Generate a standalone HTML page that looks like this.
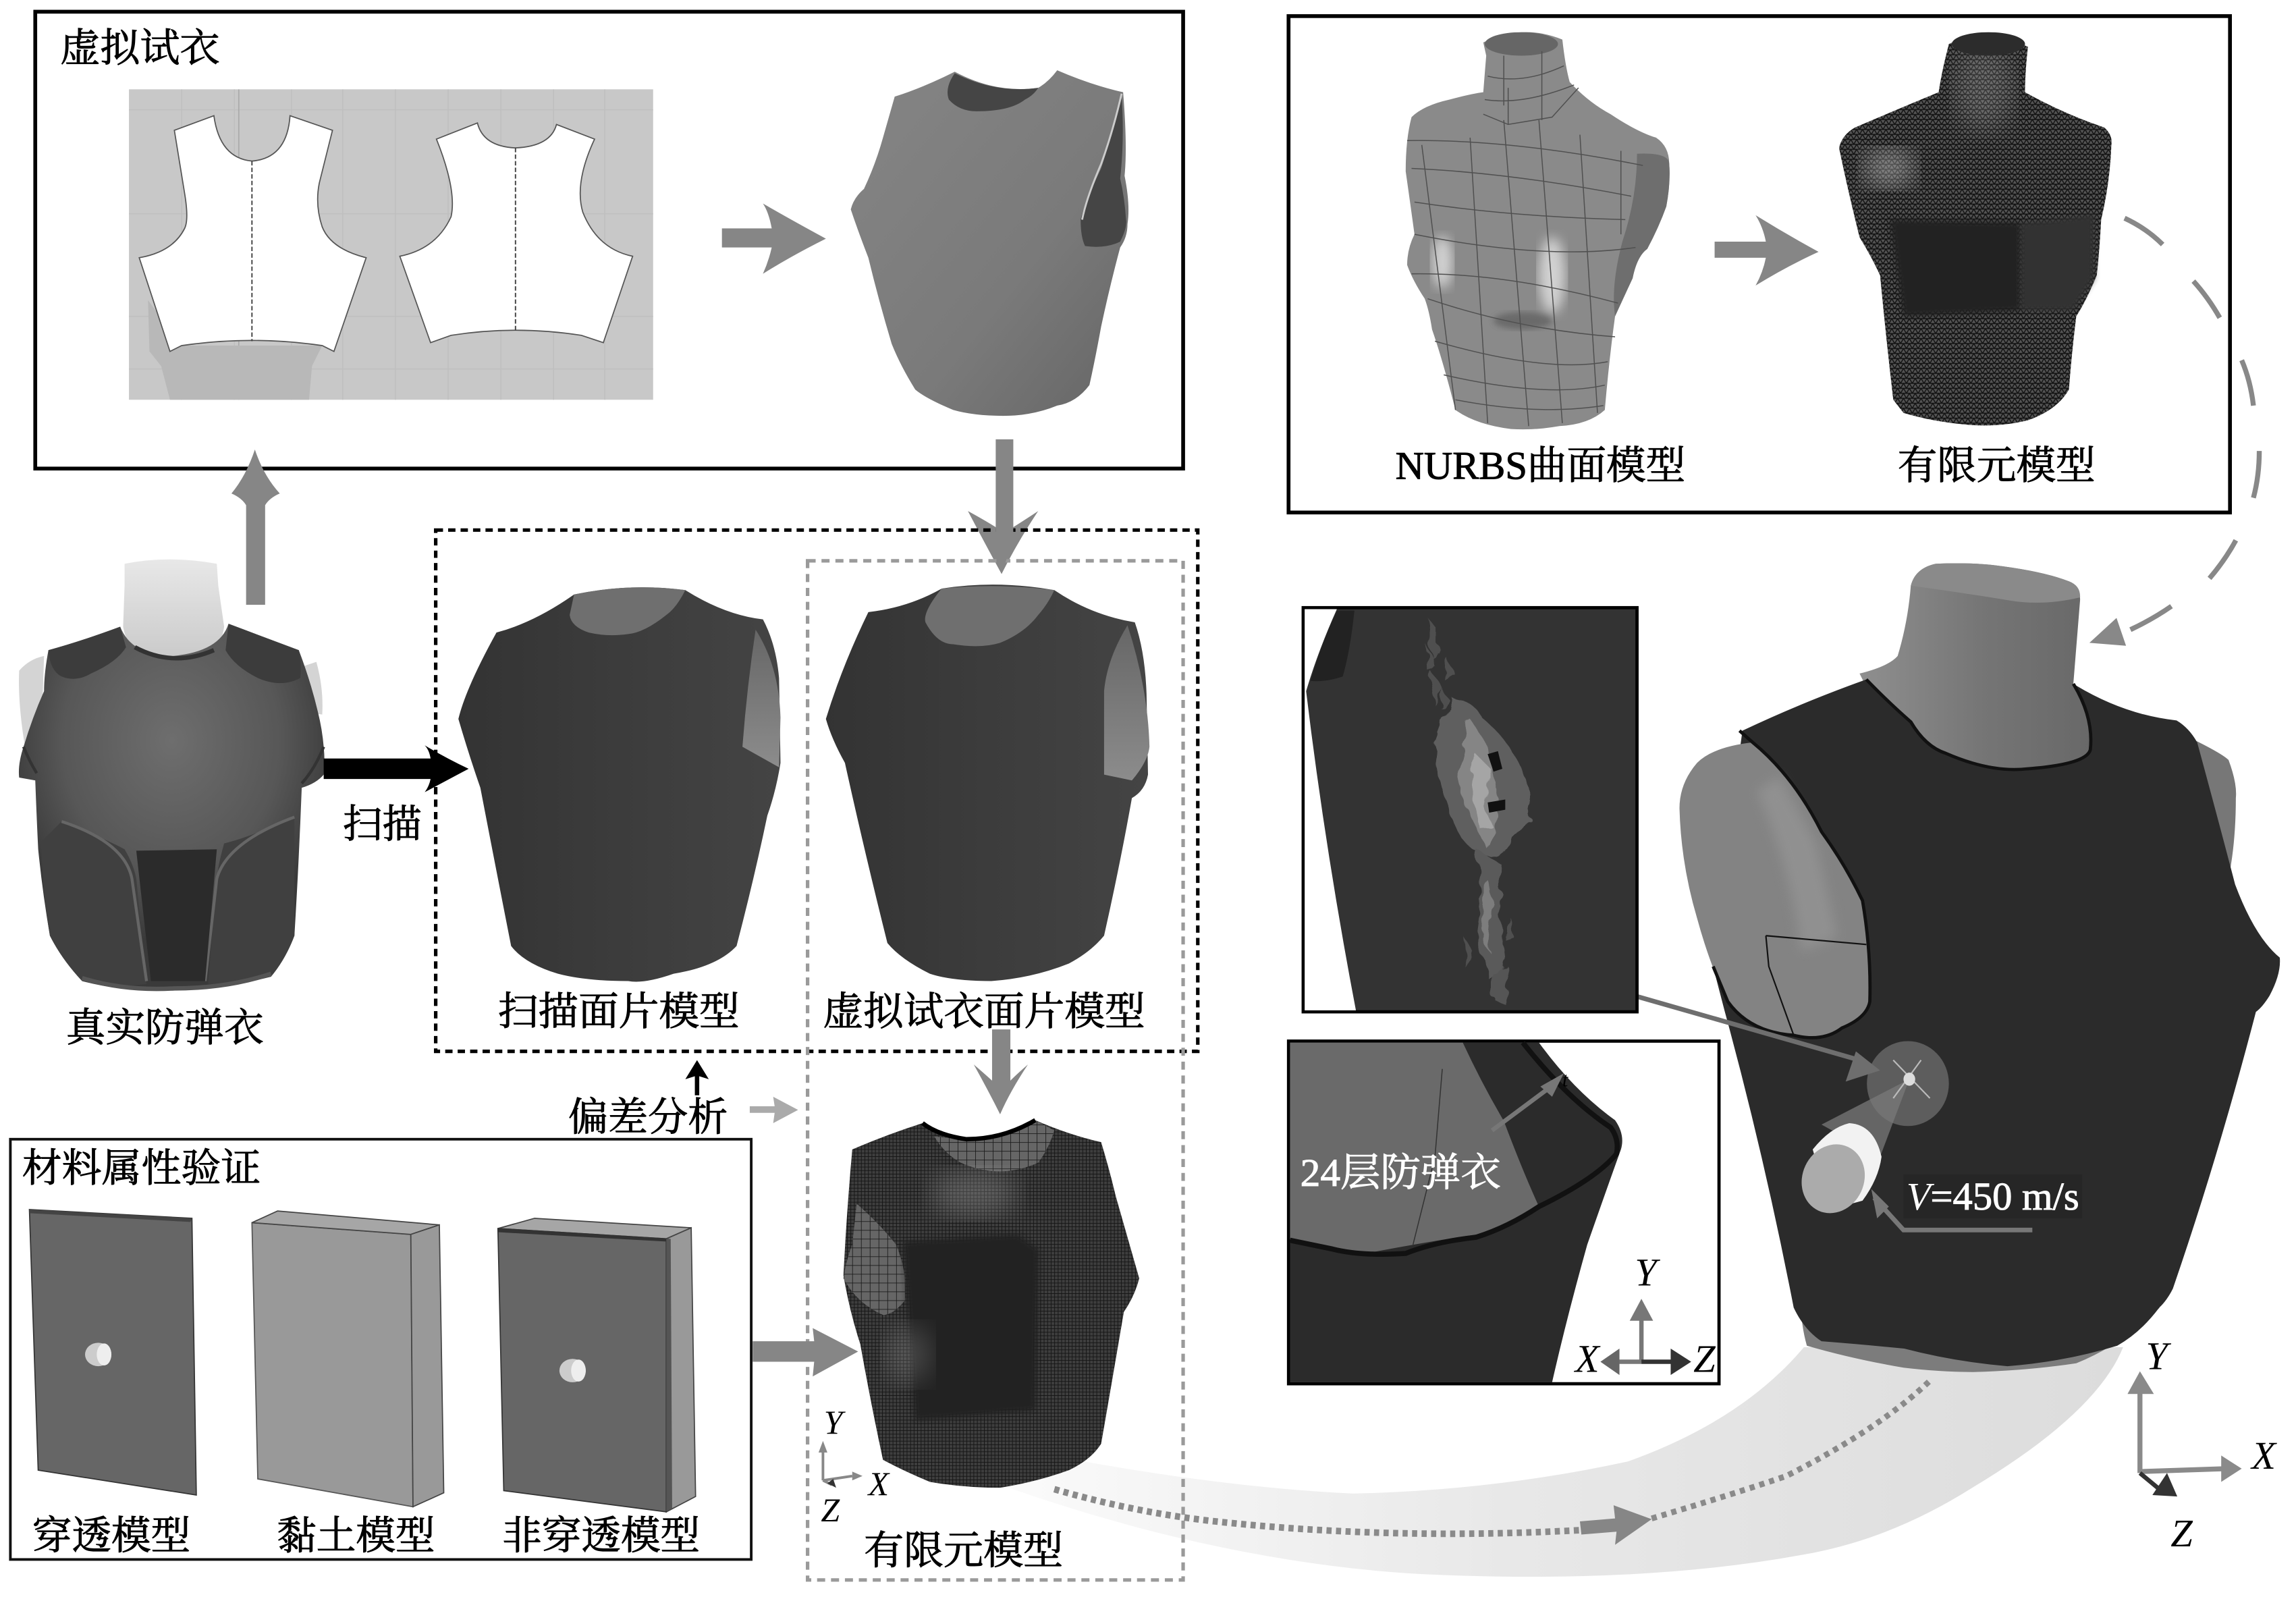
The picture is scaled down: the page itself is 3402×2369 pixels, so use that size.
<!DOCTYPE html>
<html><head><meta charset="utf-8"><style>
html,body{margin:0;padding:0;background:#fff}
svg{display:block}
text{font-family:"Liberation Serif","Noto Serif CJK SC",serif;fill:#000;font-size:27px;stroke:#000;stroke-width:.45}
text.w,text.w tspan{fill:#fff;stroke:#fff}
.i{font-style:italic;stroke-width:0}
</style></head><body>
<svg width="3402" height="2369" viewBox="0 0 1568 1092" xmlns="http://www.w3.org/2000/svg">
<defs>
<linearGradient id="g1" x1="0" y1="0" x2="1" y2="1"><stop offset="0" stop-color="#858585"/><stop offset=".6" stop-color="#7a7a7a"/><stop offset="1" stop-color="#656565"/></linearGradient>
<radialGradient id="real" cx=".5" cy=".32" r=".55"><stop offset="0" stop-color="#6e6e6e"/><stop offset=".65" stop-color="#575757"/><stop offset="1" stop-color="#3a3a3a"/></radialGradient>
<linearGradient id="scan" x1="0" y1="0" x2="1" y2="0"><stop offset="0" stop-color="#333"/><stop offset=".5" stop-color="#3c3c3c"/><stop offset="1" stop-color="#444"/></linearGradient>
<linearGradient id="rib" x1="610" y1="0" x2="1450" y2="0" gradientUnits="userSpaceOnUse"><stop offset="0" stop-color="#fff"/><stop offset=".5" stop-color="#e8e8e8"/><stop offset="1" stop-color="#dcdcdc"/></linearGradient>
<linearGradient id="neckg" x1="0" y1="0" x2="1" y2="0"><stop offset="0" stop-color="#8f8f8f"/><stop offset=".5" stop-color="#757575"/><stop offset="1" stop-color="#666"/></linearGradient>
<linearGradient id="wn" x1="0" y1="0" x2="0" y2="1"><stop offset="0" stop-color="#e8e8e8"/><stop offset="1" stop-color="#c8c8c8"/></linearGradient>
<linearGradient id="ah" x1="0" y1="0" x2="0" y2="1"><stop offset="0" stop-color="#666"/><stop offset="1" stop-color="#8c8c8c"/></linearGradient>
<pattern id="fine" width="2.4" height="2.4" patternUnits="userSpaceOnUse"><rect width="2.4" height="2.4" fill="#3e3e3e"/><path d="M0,0H2.4M0,0V2.4" stroke="#161616" stroke-width=".9"/></pattern>
<pattern id="coarse" width="6" height="6" patternUnits="userSpaceOnUse"><rect width="6" height="6" fill="#666"/><path d="M0,0H6M0,0V6" stroke="#1a1a1a" stroke-width=".8"/></pattern>
<pattern id="tri" width="4" height="3.4" patternUnits="userSpaceOnUse"><rect width="4" height="3.4" fill="#545454"/><path d="M0,0H4M0,0L2,3.4L4,0M0,3.4H4" stroke="#121212" stroke-width=".7" fill="none"/></pattern>
<filter id="b2"><feGaussianBlur stdDeviation="2"/></filter>
<filter id="b4"><feGaussianBlur stdDeviation="4"/></filter>
<filter id="b8"><feGaussianBlur stdDeviation="9"/></filter>
<filter id="wob" x="-20%" y="-20%" width="140%" height="140%"><feTurbulence type="fractalNoise" baseFrequency=".09" numOctaves="2" seed="4" result="n"/><feDisplacementMap in="SourceGraphic" in2="n" scale="9"/></filter>
</defs>

<!-- ribbon -->
<path d="M1232,920 L1450,920 Q1432,965 1347,1016 Q1290,1052 1230,1062 Q1120,1082 971,1075 Q880,1070 780,1044 Q690,1020 610,985 L740,998 Q840,1016 924,1020 Q1020,1018 1112,998 Q1190,970 1232,920Z" fill="url(#rib)"/>

<!-- panel 1 -->
<rect x="24" y="8" width="784" height="312" fill="none" stroke="#000" stroke-width="2.6"/>
<text x="41" y="42" textLength="109" lengthAdjust="spacingAndGlyphs">虚拟试衣</text>
<rect x="88" y="61" width="358" height="212" fill="#c8c8c8"/>
<path d="M124,61V273M160,61V273M199,61V273M234,61V273M270,61V273M306,61V273M342,61V273M378,61V273M413,61V273M88,75H446M88,146H446M88,216H446M88,252H446" stroke="#bfbfbf" stroke-width=".7"/>
<path d="M163,61V273" stroke="#aaa" stroke-width=".8"/>
<path d="M101,205 L102,240 L110,250 L116,273 L211,273 L213,250 L220,236 L124,236Z" fill="#b8b8b8"/>
<path d="M146,79 L119,89 L126,132 Q129,150 126,156 Q118,172 95,176 L116,240 L124,236 Q172,229 220,236 L228,240 L250,176 Q226,170 220,155 Q215,140 218,125 L227,89 L198,79 Q196,108 172,110 Q150,108 146,79Z" fill="#fff" stroke="#555" stroke-width=".8"/>
<path d="M326,84 L298,95 Q312,130 308,148 Q298,170 273,175 L294,234 L308,229 Q352,222 397,229 L412,234 L432,175 Q408,170 398,145 Q392,125 406,95 L380,85 Q376,100 352,101 Q330,100 326,84Z" fill="#fff" stroke="#555" stroke-width=".8"/>
<path d="M172,110V233M352,101V226" stroke="#444" stroke-width=".9" stroke-dasharray="3 1.5"/>
<!-- garment 1 -->
<path d="M652,49 Q680,64 709,60 Q716,56 722,48 Q745,58 767,63 Q770,100 768,120 Q772,140 770,153 Q770,162 765,169 Q758,195 752,223 Q748,245 744,263 Q735,275 722,277 Q705,284 685,284 Q665,284 651,280 Q632,272 625,266 Q615,250 609,235 Q600,205 593,176 Q586,158 581,143 Q583,135 590,129 Q598,112 603,94 Q607,80 611,66 Q630,60 652,49Z" fill="url(#g1)"/>
<path d="M652,50 Q645,60 648,68 Q655,76 667,76 Q690,76 700,68 Q706,65 709,60 Q680,64 652,50Z" fill="#454545"/>
<path d="M766,66 Q760,90 752,115 Q740,140 738,150 Q738,162 741,168 Q755,170 765,165 Q770,155 769,150 Q768,135 765,122 Q768,95 766,66Z" fill="#454545"/>
<path d="M766,64 Q760,90 752,112 Q742,135 739,150" fill="none" stroke="#ccc" stroke-width="1.3"/>
<!-- arrow H1 -->
<path d="M493,156H527Q525,145 521,139Q540,150 564,163Q540,175 521,187Q525,178 527,169H493Z" fill="#868686"/>
<!-- up arrow -->
<path d="M168,413V345Q165,340 158,337Q168,325 174,307Q180,325 191,337Q184,340 181,345V413Z" fill="#868686"/>
<!-- down arrow A2 -->
<path d="M680,300H692V360Q700,355 709,349Q695,370 684,392Q672,370 661,349Q672,355 680,360Z" fill="#868686"/>

<!-- real vest -->
<path d="M85,385 Q115,379 148,385 L149,400 L153,428 Q150,452 118,454 Q88,452 84,428 L85,400Z" fill="url(#wn)"/>
<path d="M13,458 Q20,450 30,448 L28,510 L17,510 Q12,480 13,458Z M204,456 L216,452 Q221,470 220,488 L207,486Z" fill="#d4d4d4"/>
<path d="M82,428 Q55,438 33,444 Q30,460 30,472 Q22,490 16,510 Q12,522 13,531 L24,533 Q25,560 26,580 Q29,610 34,639 Q42,655 56,670 Q85,678 119,675 Q155,675 185,667 Q195,655 201,639 Q204,590 206,538 Q216,535 221,529 Q222,520 221,510 Q220,498 217,486 Q212,465 204,444 Q180,435 156,426 Q150,445 118,448 Q90,448 82,428Z" fill="url(#real)"/>
<path d="M82,428 Q55,438 33,444 Q34,458 42,462 Q52,466 62,460 Q80,452 86,442Z M156,426 Q180,435 204,444 Q206,455 205,463 Q192,470 176,463 Q160,455 154,444Z" fill="#3c3c3c"/>
<path d="M92,442 Q118,456 146,444" stroke="#333" stroke-width="3" fill="none"/>
<path d="M42,561 Q70,572 85,580 Q91,590 93,600 L100,672 Q75,675 56,670 Q42,655 34,639 Q29,610 28,575Z M201,558 Q170,572 153,576 Q149,590 148,600 L142,672 Q165,672 185,667 Q195,655 201,639 Z" fill="#404040"/>
<path d="M42,561 Q85,575 90,600 L100,670 M201,558 Q155,575 148,600 L140,670" stroke="#666" stroke-width="2" fill="none"/>
<path d="M93,581 L148,580 L140,670 L103,670Z" fill="#2b2b2b"/>
<path d="M56,668 Q85,677 119,675 Q155,675 185,665" stroke="#555" stroke-width="3" fill="none"/>
<path d="M16,510 Q20,520 25,528 M221,510 Q215,525 206,535" stroke="#333" stroke-width="2" fill="none"/>
<text x="45" y="711" textLength="135" lengthAdjust="spacingAndGlyphs">真实防弹衣</text>

<!-- black arrow -->
<path d="M221,518H294Q293,512 290,509Q305,518 320,525Q305,533 290,541Q293,537 294,532H221Z" fill="#000"/>
<text x="234" y="572" textLength="54" lengthAdjust="spacingAndGlyphs">扫描</text>

<!-- scan vest -->
<path d="M392,406 Q430,398 468,403 Q495,420 521,423 Q530,440 532,463 L533,521 Q530,540 524,557 Q515,600 503,646 Q490,660 460,665 Q440,672 429,670 Q400,670 381,665 Q358,658 349,646 Q338,590 328,538 Q320,515 313,491 Q318,470 339,432 Q365,425 392,406Z" fill="url(#scan)"/>
<path d="M392,406 Q430,398 468,403 Q462,415 455,420 Q440,432 429,433 Q415,435 402,432 Q390,428 389,420Z" fill="#6f6f6f"/>
<path d="M516,430 Q510,470 507,510 L532,524 L533,490 Q532,455 516,430Z" fill="url(#ah)"/>

<!-- VT vest -->
<path d="M643,402 Q680,396 720,403 Q745,420 775,425 Q782,445 783,474 L784,529 Q782,540 773,545 Q765,590 754,639 Q745,650 730,658 Q705,668 677,670 Q650,670 635,665 Q615,655 606,644 Q590,580 577,521 Q568,505 564,491 Q575,455 593,418 Q620,415 643,402Z" fill="url(#scan)"/>
<path d="M643,402 Q630,418 632,425 Q640,440 651,440 Q670,443 683,439 Q700,432 709,420 Q716,412 720,403 Q680,398 643,402Z" fill="#6f6f6f"/>
<path d="M770,427 Q756,450 754,472 L754,529 L773,533 Q784,520 785,510 Q784,470 770,427Z" fill="url(#ah)"/>

<!-- dashed boxes -->
<path d="M297.5,362 H818 V718 H297.5 Z" fill="none" stroke="#000" stroke-width="2.4" stroke-dasharray="5 3.5"/>
<path d="M551.5,383 H808 V1079 H551.5 Z" fill="none" stroke="#9a9a9a" stroke-width="2.4" stroke-dasharray="5.5 4"/>
<path d="M680,360H692V368L684,392L680,368Z" fill="#868686"/>

<text x="340" y="700" textLength="165" lengthAdjust="spacingAndGlyphs">扫描面片模型</text>
<text x="562" y="700" textLength="220" lengthAdjust="spacingAndGlyphs">虚拟试衣面片模型</text>

<!-- A4 -->
<path d="M677.5,703H690V738Q695,733 702,727Q690,745 683,761Q675,745 665,727Q672,733 677.5,738Z" fill="#868686"/>
<!-- A5 -->
<path d="M476,724 L484,737 L477.5,735 V748 H474.5 V735 L468,737Z" fill="#000"/>
<text x="388" y="772" textLength="109" lengthAdjust="spacingAndGlyphs">偏差分析</text>
<path d="M512,755.5H529L528,749 L545,758 L528,767 L529,760H512Z" fill="#aaa"/>

<!-- material panel -->
<rect x="7" y="778" width="506" height="287" fill="#fff" stroke="#111" stroke-width="1.8"/>
<text x="15" y="807" textLength="163" lengthAdjust="spacingAndGlyphs">材料属性验证</text>
<path d="M20,826 L131,832 L134,1021 L26,1004Z" fill="#666" stroke="#333" stroke-width=".8"/>
<path d="M20,826 L131,832 L130,834.5 L20,828.5Z" fill="#444"/>
<ellipse cx="67" cy="925" rx="9" ry="8" fill="#ccc"/><ellipse cx="71" cy="925" rx="5" ry="7.5" fill="#eee"/>
<path d="M172,835 L280.5,843 L282,1029 L176,1010Z" fill="#999" stroke="#555" stroke-width=".8"/>
<path d="M172,835 L189.5,827 L300,836.5 L280.5,843Z" fill="#a6a6a6" stroke="#444" stroke-width=".8"/>
<path d="M300,836.5 L303,1019.5 L282,1029 L280.5,843Z" fill="#999" stroke="#444" stroke-width=".8"/>
<path d="M340,839 L365,832 L472,838.5 L455,846Z" fill="#a6a6a6" stroke="#444" stroke-width=".8"/>
<path d="M472,838.5 L475,1022 L455,1032.5 L455,846Z" fill="#999" stroke="#444" stroke-width=".8"/>
<path d="M340,839 L455,846 L455,1032.5 L344,1018Z" fill="#666" stroke="#333" stroke-width=".8"/>
<path d="M340,839 L457,846 V848 L340,841.5Z" fill="#333"/>
<path d="M455,846 H458 L459,1030 L455,1032Z" fill="#555"/>
<ellipse cx="391" cy="936" rx="9" ry="8" fill="#ccc"/><ellipse cx="395" cy="936" rx="5" ry="7.5" fill="#eee"/>
<text x="22" y="1058" textLength="108" lengthAdjust="spacingAndGlyphs">穿透模型</text>
<text x="189" y="1058" textLength="108" lengthAdjust="spacingAndGlyphs">黏土模型</text>
<text x="343" y="1058" textLength="135" lengthAdjust="spacingAndGlyphs">非穿透模型</text>

<!-- FE vest -->
<path d="M630,767 Q640,775 660,778 Q685,778 707,765 Q730,775 752,780 Q758,800 762,817 Q770,845 778,873 Q775,885 767.5,896 Q760,940 752,986 Q745,997 730,1004 Q708,1012 683,1016 Q658,1016 635,1012 Q618,1005 603,997 Q595,960 587.5,918 Q580,895 576,871 Q578,830 582,785 Q605,775 630,767Z" fill="url(#fine)"/>
<path d="M638,776 Q645,788 656,794 Q683,806 709,794 Q716,785 720,772 L707,765 Q680,780 655,778Z" fill="url(#coarse)"/>
<path d="M630,767 Q640,775 660,778 Q685,778 707,765" fill="none" stroke="#000" stroke-width="3"/>
<path d="M576,873 Q578,860 582,850 L585,822 Q600,835 612,850 Q620,870 618,888 Q610,898 603,898 Q585,890 576,873Z" fill="url(#coarse)"/>
<path d="M617,848 L695,843 L709,853 L707,963 L625,970Z" fill="#222" filter="url(#b2)"/>
<ellipse cx="665" cy="815" rx="30" ry="16" fill="#aaa" opacity=".3" filter="url(#b8)"/>
<ellipse cx="620" cy="925" rx="16" ry="20" fill="#aaa" opacity=".25" filter="url(#b8)"/>
<!-- A7 -->
<path d="M514,916H556L555,907 L586,923 L555,940 L556,930H514Z" fill="#868686"/>
<text x="590" y="1068" textLength="136" lengthAdjust="spacingAndGlyphs">有限元模型</text>
<path d="M562,1011V990 M562,1011L582,1008 M562,1011 L568,1014" stroke="#888" stroke-width="1.8" fill="none"/>
<path d="M562,984 L565,992 L559,992Z M589,1008 L582,1005 L582,1011Z" fill="#888"/>
<path d="M571,1016 L565,1013 L569,1010Z" fill="#333"/>
<text class="i" x="569" y="979" text-anchor="middle" style="font-size:23px">Y</text>
<text class="i" x="600" y="1021" text-anchor="middle" style="font-size:23px">X</text>
<text class="i" x="567" y="1039" text-anchor="middle" style="font-size:23px">Z</text>

<!-- panel top right -->
<rect x="880" y="11" width="643" height="339" fill="none" stroke="#000" stroke-width="2.6"/>
<path d="M1013,29 Q1040,16 1067,27 Q1069,45 1072,56 Q1085,70 1100,78 Q1118,90 1131,94 Q1140,100 1140,112 Q1141,125 1138,141 Q1133,155 1125,170 Q1118,175 1115,190 Q1108,205 1103,216 Q1099,245 1096,280 Q1085,290 1065,291 Q1048,294 1032,293 Q1008,290 994,280 Q985,245 978,225 Q976,212 973,204 Q965,192 961,181 Q961,170 966,160 Q963,138 960,117 Q960,95 964,80 Q972,72 990,68 Q1005,64 1013,63 Q1014,50 1015,38Z" fill="#8a8a8a"/>
<path d="M1118,105 Q1140,104 1140,112 Q1141,125 1138,141 Q1133,155 1125,170 Q1118,175 1115,190 L1103,216 Q1100,195 1108,165 Q1118,135 1118,105Z" fill="#6e6e6e"/>
<ellipse cx="985" cy="179" rx="7" ry="18" fill="#e4e4e4" opacity=".8" filter="url(#b4)"/>
<ellipse cx="1060" cy="188" rx="9" ry="26" fill="#e4e4e4" opacity=".8" filter="url(#b4)"/>
<ellipse cx="1040" cy="219" rx="20" ry="6" fill="#444" opacity=".45" filter="url(#b2)"/>
<ellipse cx="1039" cy="30" rx="25" ry="8" fill="#666"/>
<path d="M961,96Q1032,95 1122,113M964,115Q1032,118 1114,134M966,138Q1032,148 1110,150M966,160Q1056,178 1117,169M964,187Q1027,186 1105,207M975,204Q1037,225 1103,230M980,233Q1056,255 1098,247M986,256Q1056,272 1096,263M994,273Q1051,284 1095,277M971,99L994,280M1004,94L1016,289M1027,82L1044,291M1051,82L1067,289M1079,92L1091,282M1107,103V160M1027,38V72M1053,35V82M1016,52Q1040,58 1068,45M1014,68Q1040,72 1075,58M1013,78 L1030,85 L1060,80 L1078,60M1030,85V60" fill="none" stroke="#505050" stroke-width=".7"/>
<path d="M1171,165H1206Q1204,155 1199,147Q1220,160 1242,172Q1220,182 1199,195Q1204,186 1206,176H1171Z" fill="#868686"/>
<path d="M1331,30 Q1357,18 1385,32 Q1383,50 1383,63 Q1410,78 1437,87 Q1443,92 1442,99 Q1441,125 1435,150 Q1434,170 1432,188 Q1425,205 1418,216 Q1415,240 1413,266 Q1405,280 1385,287 Q1365,292 1343,290 Q1320,288 1300,282 L1293,273 Q1288,230 1284,188 Q1278,175 1270,162 Q1262,130 1256,101 Q1258,92 1267,87 Q1295,75 1324,63 Q1326,50 1329,38Z" fill="url(#tri)"/>
<path d="M1291,150 L1380,152 L1380,212 L1300,216Z" fill="#242424" filter="url(#b2)"/>
<path d="M1380,152 Q1410,150 1430,146 L1430,190 L1416,212 L1380,212Z" fill="#333" filter="url(#b2)"/>
<ellipse cx="1290" cy="115" rx="18" ry="13" fill="#ccc" opacity=".45" filter="url(#b8)"/>
<ellipse cx="1355" cy="60" rx="20" ry="30" fill="#ccc" opacity=".2" filter="url(#b8)"/>
<ellipse cx="1358" cy="30" rx="25" ry="8" fill="#2c2c2c"/>
<text x="953" y="327" textLength="198" lengthAdjust="spacingAndGlyphs">NURBS曲面模型</text>
<text x="1296" y="327" textLength="135" lengthAdjust="spacingAndGlyphs">有限元模型</text>

<!-- dashed curve right -->
<path d="M1451,149 Q1466,156 1477,167 M1498,192 Q1508,203 1516,217 M1531,246 Q1537,260 1539,277 M1543,308 Q1543,325 1539,340 M1527,369 Q1520,382 1509,395 M1483,414 Q1470,423 1455,430" fill="none" stroke="#888" stroke-width="3.4"/>
<path d="M1427,439 L1445.5,422 L1452,441Z" fill="#888"/>

<!-- big mannequin -->
<path d="M1230,890 Q1230,905 1234,919 Q1265,928 1300,934 Q1325,937 1348,937 Q1385,936 1418,931 Q1450,918 1475,893Z" fill="#7c7c7c"/>
<path d="M1500,506 Q1518,515 1522,519 Q1528,535 1527,545 Q1527,575 1522,600 L1505,600Z" fill="#777"/>
<path d="M1305,400 Q1308,388 1322,385 Q1345,384 1362,386 Q1395,390 1413,397 Q1421,400 1420.6,410 L1416,467 L1440,520 L1385,540 L1300,520 L1270,460 Q1290,455 1296,448 Q1303,425 1305,400Z" fill="url(#neckg)"/>
<path d="M1305,400 Q1308,388 1322,385 Q1345,384 1362,386 Q1395,390 1413,397 Q1421,400 1420.6,408 Q1395,414 1372,410 Q1335,404 1305,400Z" fill="#8a8a8a"/>
<path d="M1190,499 Q1230,480 1274.6,464 Q1290,480 1305,493 Q1315,510 1329,514.5 Q1360,528 1385,525 Q1425,522 1427.6,512 Q1430,490 1416,467 Q1450,488 1486.5,492 Q1495,497 1500.6,507 Q1515,560 1526.5,604 Q1540,640 1557,654 Q1558,665 1550,680 Q1545,688 1540.7,691 Q1515,790 1484,880 Q1480,888 1474.7,893 Q1462,910 1446,919 Q1410,930 1371,933 Q1335,930 1300.5,921 Q1270,918 1244,916 Q1232,908 1225,893 Q1205,790 1178,691 L1168.6,655Z" fill="#2b2b2b"/>
<path d="M1274.6,464 Q1290,480 1305,493 Q1315,510 1329,514.5 Q1360,528 1385,525 Q1425,522 1427.6,512 Q1430,490 1416,467" fill="none" stroke="#111" stroke-width="2.2"/>
<path d="M1197,507 Q1170,510 1159,521 Q1147,535 1147,552 Q1148,590 1159,627 Q1168,660 1180,684 Q1195,705 1225,707 Q1245,712 1258,702 Q1275,695 1277,684 Q1278,650 1272,615 Q1260,590 1244,568 Q1225,530 1197,507Z" fill="#838383"/>
<path d="M1200,540 Q1225,600 1230,650 L1255,640 L1240,575 L1215,530Z" fill="#9a9a9a" opacity=".6" filter="url(#b4)"/>
<path d="M1188,499 L1197,507 Q1225,530 1244,568 Q1260,590 1272,615 Q1278,650 1277,684 Q1275,695 1258,702 Q1245,712 1225,707 Q1195,705 1180,684 L1170,660" fill="none" stroke="#111" stroke-width="2.2"/>
<path d="M1206,639 L1274.6,645 M1206,639 L1208,660 L1225,707" fill="none" stroke="#111" stroke-width="1"/>

<!-- impact -->
<ellipse cx="1303" cy="740" rx="28" ry="29" fill="#5d5d5d"/>
<path d="M1304,737 L1244,768 L1284,790Z" fill="#7a7a7a" opacity=".75"/>
<path d="M1293,724L1318,750M1312,724L1293,750" stroke="#bbb" stroke-width="1"/>
<ellipse cx="1304" cy="737" rx="4" ry="4.5" fill="#ddd"/>
<path d="M1238,785 Q1250,770 1263,767 Q1280,768 1285,790 Q1283,805 1272,820 L1250,826Z" fill="#f2f2f2"/>
<ellipse cx="1252" cy="805" rx="24" ry="21" transform="rotate(-65 1252 805)" fill="#ababab"/>
<rect x="1300" y="802" width="122" height="30" fill="#262626"/>
<text class="w" x="1302" y="826"><tspan class="i">V</tspan><tspan>=450 m/s</tspan></text>
<path d="M1388,840H1300L1280,818" fill="none" stroke="#777" stroke-width="3.2"/>
<path d="M1278,812 L1290,824 L1282,832Z" fill="#777"/>
<!-- leader -->
<path d="M1114.5,679.5 L1270,724" stroke="#6e6e6e" stroke-width="3.2"/>
<path d="M1284,731 L1267.5,718 L1260.5,738.6Z" fill="#6e6e6e"/>

<!-- inset 1 -->
<rect x="890" y="415" width="228" height="276" fill="#333" stroke="#000" stroke-width="2.2"/>
<path d="M891,416 H913 Q900,445 892,472 Q905,580 926,690 H891Z" fill="#fff"/>
<path d="M913,417 L925,417 Q922,445 917,462 Q905,466 895,465 Q902,440 913,417Z" fill="#222"/>
<g filter="url(#wob)">
<path d="M992,477 Q1008,480 1012,490 Q1030,505 1037,521 L1046,540 Q1044,560 1037,571 L1018,585 Q1005,582 999,573 Q988,555 983,533 L980,510Z" fill="#5f5f5f"/>
<path d="M1003,490 Q1015,505 1018,520 L1024,550 Q1022,565 1016,580 L1005,560 Q998,545 995,530 L1000,510Z" fill="#858585"/>
<path d="M1008,515 L1018,525 L1013,550 L1020,565 L1010,565 L1005,540Z" fill="#a5a5a5"/>
<path d="M1008,580 L1025,590 L1024,625 L1028,660 L1018,670 L1008,640 L1012,610Z" fill="#5a5a5a"/>
<path d="M1015,600 L1020,610 L1017,650 L1012,640Z" fill="#7d7d7d"/>
<path d="M1020,665 L1030,660 L1030,688 L1020,682Z" fill="#555"/>
<path d="M975,422 L982,430 L982,445 L977,448Z M974,440 L980,455 L975,458Z M977,458 L985,470 L980,482Z M987,448 L993,460 L986,464Z M1000,640 L1006,650 L1002,662Z M1030,625 L1034,640 L1028,642Z M985,470 L990,478 L984,484Z" fill="#505050"/>
</g>
<path d="M1016,515 L1023,513 L1026,525 L1020,527Z" fill="#111"/>
<path d="M1016,548 L1028,546 L1028,553 L1017,555Z" fill="#111"/>

<!-- inset 2 -->
<rect x="880" y="711" width="294" height="234" fill="#fff" stroke="#000" stroke-width="2.2"/>
<path d="M881,712 L1051,712 Q1075,745 1103,765 Q1110,775 1107,785 Q1098,810 1084,850 Q1070,900 1060,944 L881,944Z" fill="#2b2b2b"/>
<path d="M881,712 L999,712 Q1012,740 1027,765.5 Q1040,800 1051,824 Q1030,836 1008.5,843 Q975,848 938,855 Q910,856 881,847Z" fill="#6a6a6a"/>
<path d="M1040,712 Q1070,750 1100,770 Q1106,778 1104,788 Q1090,805 1051,824 Q1030,838 1008,845 Q980,848 960,856 Q930,858 910,853 L881,847" fill="none" stroke="#111" stroke-width="3.5"/>
<path d="M985,730 L980,790 L965,850" fill="none" stroke="#333" stroke-width=".7"/>
<path d="M1019,772 L1062,740" stroke="#777" stroke-width="3"/>
<path d="M1068,733 L1052,742 L1060,749Z" fill="#777"/>
<text class="i" x="1067" y="742" style="font-size:14px">t</text>
<text class="w" x="888" y="810" textLength="137" lengthAdjust="spacingAndGlyphs">24层防弹衣</text>
<path d="M1121,930V897" stroke="#777" stroke-width="3"/>
<path d="M1121,887 L1129,902 L1113,902Z" fill="#777"/>
<path d="M1121,930 H1103" stroke="#777" stroke-width="3"/>
<path d="M1093,930 L1106,921 L1106,939Z" fill="#666"/>
<path d="M1121,930 H1145" stroke="#333" stroke-width="3"/>
<path d="M1155,930 L1141,921 L1141,939Z" fill="#333"/>
<text class="i" x="1124" y="878" text-anchor="middle">Y</text>
<text class="i" x="1084" y="937" text-anchor="middle">X</text>
<text class="i" x="1164" y="937" text-anchor="middle">Z</text>

<!-- axes right -->
<path d="M1461.5,1006V948" stroke="#8a8a8a" stroke-width="3.4"/>
<path d="M1461.5,936.5 L1471,952 L1453,952Z" fill="#8a8a8a"/>
<path d="M1461.5,1005 L1520,1003" stroke="#8a8a8a" stroke-width="3.4"/>
<path d="M1531,1003 L1517,994 L1517,1012Z" fill="#8a8a8a"/>
<path d="M1461.5,1006 L1476,1018" stroke="#333" stroke-width="3"/>
<path d="M1487,1022 L1470,1021 L1480,1006Z" fill="#333"/>
<text class="i" x="1473" y="935" text-anchor="middle">Y</text>
<text class="i" x="1546" y="1003" text-anchor="middle">X</text>
<text class="i" x="1490" y="1056" text-anchor="middle">Z</text>

<!-- dotted curve -->
<path d="M720,1017 Q775,1033 830,1039 Q950,1052 1079,1045" fill="none" stroke="#8a8a8a" stroke-width="4.5" stroke-dasharray="3.5 3"/>
<path d="M1128,1037 Q1185,1020 1220,1008 Q1285,975 1319,942" fill="none" stroke="#8a8a8a" stroke-width="4" stroke-dasharray="3.5 3.5"/>
<path d="M1079,1039 L1103,1037 L1102,1028 L1128,1037.5 L1103,1055 L1104,1046 L1080,1048Z" fill="#868686"/>
</svg>
</body></html>
